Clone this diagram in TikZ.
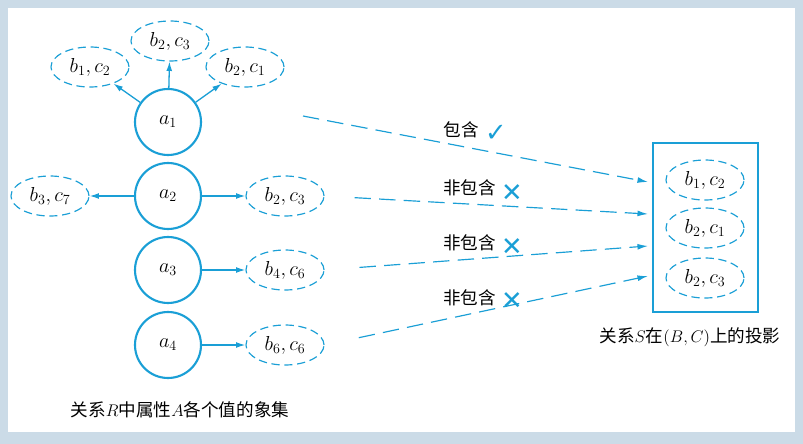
\documentclass[tikz,border=0pt]{standalone}
\usepackage{fontspec}
\newfontfamily\cjk{Noto Sans CJK SC}
\newfontfamily\sym{DejaVu Sans}
\usetikzlibrary{shapes.geometric,arrows.meta}
\definecolor{cy}{HTML}{1A9FD6}
\definecolor{bg}{HTML}{CBDBE7}
\tikzset{
 circ/.style={circle,draw=cy,line width=1.8pt,minimum size=66*0.03cm,inner sep=0pt,font=\fontsize{18}{20}\selectfont},
 ell/.style={ellipse,draw=cy,dashed,dash pattern=on 7pt off 4pt,line width=1pt,minimum width=78*0.03cm,minimum height=40*0.03cm,inner sep=0pt,font=\fontsize{18}{20}\selectfont},
 arr/.style={cy,line width=1.1pt,-{Latex[length=8pt,width=5pt]}},
 darr/.style={cy,dashed,dash pattern=on 14pt off 7pt,line width=1pt,-{Latex[length=9pt,width=5pt]}},
 lab/.style={font=\cjk\fontsize{15}{18}\selectfont,text=black},
 mk/.style={font=\sym\fontsize{22}{24}\selectfont,text=cy}
}
\begin{document}
\begin{tikzpicture}[x=0.03cm,y=-0.03cm]
\fill[bg] (0,0) rectangle (803,444);
\fill[white] (8,8) rectangle (795,432);
\useasboundingbox (0,0) rectangle (803,444);
\node[circ] (a1) at (168,122) {$a_1$};
\node[circ] (a2) at (168,196) {$a_2$};
\node[circ] (a3) at (168,270) {$a_3$};
\node[circ] (a4) at (168,345) {$a_4$};
\node[ell] (t1) at (90,67) {$b_1,c_2$};
\node[ell] (t2) at (170,41) {$b_2,c_3$};
\node[ell] (t3) at (245,67) {$b_2,c_1$};
\node[ell] (l2) at (50,196) {$b_3,c_7$};
\node[ell] (r2) at (285,196) {$b_2,c_3$};
\node[ell] (r3) at (285,270) {$b_4,c_6$};
\node[ell] (r4) at (285,345) {$b_6,c_6$};
\draw[arr] (a1) -- (t1);
\draw[arr] (a1) -- (t2);
\draw[arr] (a1) -- (t3);
\draw[arr] (a2) -- (l2);
\draw[arr] (a2) -- (r2);
\draw[arr] (a3) -- (r3);
\draw[arr] (a4) -- (r4);
\node[draw=cy,line width=1.8pt,minimum width=105*0.03cm,minimum height=169*0.03cm,inner sep=0pt] (box) at (705.5,227.5) {};
\node[ell] (s1) at (705,180) {$b_1,c_2$};
\node[ell] (s2) at (705,228) {$b_2,c_1$};
\node[ell] (s3) at (705,278) {$b_2,c_3$};
\coordinate (p1) at (303,116);
\coordinate (e1) at (648,182);
\coordinate (e2) at (648,214);
\coordinate (e3) at (648,246);
\coordinate (e4) at (648,276);
\draw[darr] (p1) -- (e1);
\draw[darr,shorten <=30*0.03cm] (r2.east) -- (e2);
\draw[darr,shorten <=35*0.03cm] (r3.east) -- (e3);
\draw[darr,shorten <=35*0.03cm] (r4.east) -- (e4);
\node[lab,anchor=east] (k1) at (483,130) {包含};
\node[mk,anchor=west] (m1) at (481,133) {✓};
\node[lab,anchor=east] (k2) at (500,188) {非包含};
\node[mk,anchor=west] (m2) at (497,193) {✕};
\node[lab,anchor=east] (k3) at (500,243) {非包含};
\node[mk,anchor=west] (m3) at (497,247) {✕};
\node[lab,anchor=east] (k4) at (500,298) {非包含};
\node[mk,anchor=west] (m4) at (497,301) {✕};
\node[lab] (cap1) at (180,410) {关系$R$中属性$A$各个值的象集};
\node[lab] (cap2) at (690,337) {关系$S$在$(B,C)$上的投影};
\end{tikzpicture}
\end{document}
